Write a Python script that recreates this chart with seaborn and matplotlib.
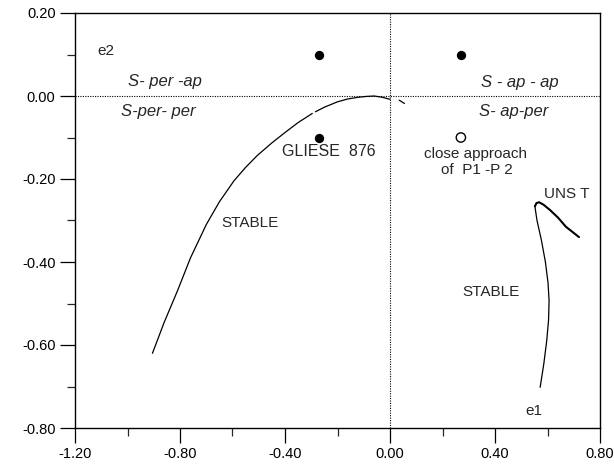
import matplotlib
matplotlib.use("Agg")
import matplotlib.pyplot as plt
from matplotlib.ticker import MultipleLocator, FormatStrFormatter
import seaborn as sns
import pandas as pd

sns.set_style("white")
plt.rcParams["font.family"] = ["Liberation Sans", "DejaVu Sans"]

# Stability boundary in the (e1, e2) plane, left branch (two pieces with a small break)
left_lower_e1 = [-0.905, -0.86, -0.81, -0.76, -0.70, -0.65, -0.594, -0.55, -0.505,
                 -0.45, -0.40, -0.35, -0.296]
left_lower_e2 = [-0.620, -0.545, -0.470, -0.390, -0.310, -0.255, -0.204, -0.172, -0.143,
                 -0.113, -0.088, -0.064, -0.042]
left_upper_e1 = [-0.284, -0.25, -0.20, -0.16, -0.12, -0.09, -0.06, -0.03, 0.0]
left_upper_e2 = [-0.038, -0.027, -0.014, -0.007, -0.003, -0.001, 0.000, -0.003, -0.008]

# short fragment just right of e1 = 0
dash_e1 = [0.035, 0.055]
dash_e2 = [-0.010, -0.018]

# unstable hook near e1 ~ 0.55
unst_e1 = [0.552, 0.558, 0.568, 0.585, 0.61, 0.64, 0.67, 0.72]
unst_e2 = [-0.266, -0.258, -0.256, -0.262, -0.275, -0.293, -0.315, -0.340]

# right stability boundary
right_e1 = [0.552, 0.560, 0.577, 0.592, 0.602, 0.606, 0.604, 0.597, 0.586, 0.572]
right_e2 = [-0.266, -0.300, -0.348, -0.400, -0.450, -0.493, -0.540, -0.590, -0.645, -0.702]

# configurations (filled) and close-approach point (open)
conf_e1 = [-0.27, 0.27, -0.27]
conf_e2 = [0.10, 0.10, -0.10]
close_e1 = [0.27]
close_e2 = [-0.10]

x_ticks = [-1.20, -0.80, -0.40, 0.00, 0.40, 0.80]
y_ticks = [0.20, 0.00, -0.20, -0.40, -0.60, -0.80]

fig = plt.figure(figsize=(6.14, 4.66), dpi=100)
ax = fig.add_axes([75 / 614, 1 - 428 / 466, 525 / 614, 415 / 466])

ax.axhline(0, color="black", lw=0.8, ls=(0, (1, 1.2)), zorder=1)
ax.axvline(0, color="black", lw=0.8, ls=(0, (1, 1.2)), zorder=1)

def curve(xs, ys, lw):
    df = pd.DataFrame({"e1": xs, "e2": ys})
    sns.lineplot(data=df, x="e1", y="e2", sort=False, estimator=None,
                 color="black", lw=lw, ax=ax)

curve(left_lower_e1, left_lower_e2, 0.9)
curve(left_upper_e1, left_upper_e2, 0.9)
curve(dash_e1, dash_e2, 0.9)
curve(unst_e1, unst_e2, 1.5)
curve(right_e1, right_e2, 0.9)

sns.scatterplot(x=conf_e1, y=conf_e2, color="black", s=45, edgecolor="black",
                linewidth=0, ax=ax, zorder=5)
sns.scatterplot(x=close_e1, y=close_e2, facecolor="none", edgecolor="black",
                s=45, linewidth=1.0, ax=ax, zorder=5)

fs = 11
fi = 12
ax.text(-1.115, 0.108, "e2", fontsize=fs, va="center", ha="left")
ax.text(-1.00, 0.035, "S- per -ap", fontsize=fi, style="italic", va="center", ha="left")
ax.text(-1.023, -0.037, "S-per- per", fontsize=fi, style="italic", va="center", ha="left")
ax.text(0.346, 0.032, "S - ap - ap", fontsize=fi, style="italic", va="center", ha="left")
ax.text(0.34, -0.037, "S- ap-per", fontsize=fi, style="italic", va="center", ha="left")
ax.text(-0.412, -0.134, "GLIESE  876", fontsize=11.5, va="center", ha="left")
ax.text(0.327, -0.140, "close approach", fontsize=fs, va="center", ha="center")
ax.text(0.332, -0.178, "of  P1 -P 2", fontsize=fs, va="center", ha="center")
ax.text(0.675, -0.236, "UNS T", fontsize=fs, va="center", ha="center")
ax.text(-0.533, -0.305, "STABLE", fontsize=fs, va="center", ha="center")
ax.text(0.384, -0.473, "STABLE", fontsize=fs, va="center", ha="center")
ax.text(0.547, -0.758, "e1", fontsize=fs, va="center", ha="center")

ax.set_xlim(-1.2, 0.8)
ax.set_ylim(-0.8, 0.2)
ax.set_xticks(x_ticks)
ax.set_yticks(y_ticks)
ax.xaxis.set_minor_locator(MultipleLocator(0.2))
ax.yaxis.set_minor_locator(MultipleLocator(0.1))
ax.xaxis.set_major_formatter(FormatStrFormatter("%.2f"))
ax.yaxis.set_major_formatter(FormatStrFormatter("%.2f"))
ax.tick_params(axis="both", which="major", direction="out", length=11, width=0.9,
               labelsize=10.5, colors="black", pad=3, top=False, right=False,
               bottom=True, left=True)
ax.tick_params(axis="both", which="minor", direction="out", length=5.5, width=0.9,
               top=False, right=False, bottom=True, left=True)
ax.set_xlabel("")
ax.set_ylabel("")
for sp in ax.spines.values():
    sp.set_visible(True)
    sp.set_color("black")
    sp.set_linewidth(1.0)

fig.savefig("out.png", dpi=100, facecolor="white")
